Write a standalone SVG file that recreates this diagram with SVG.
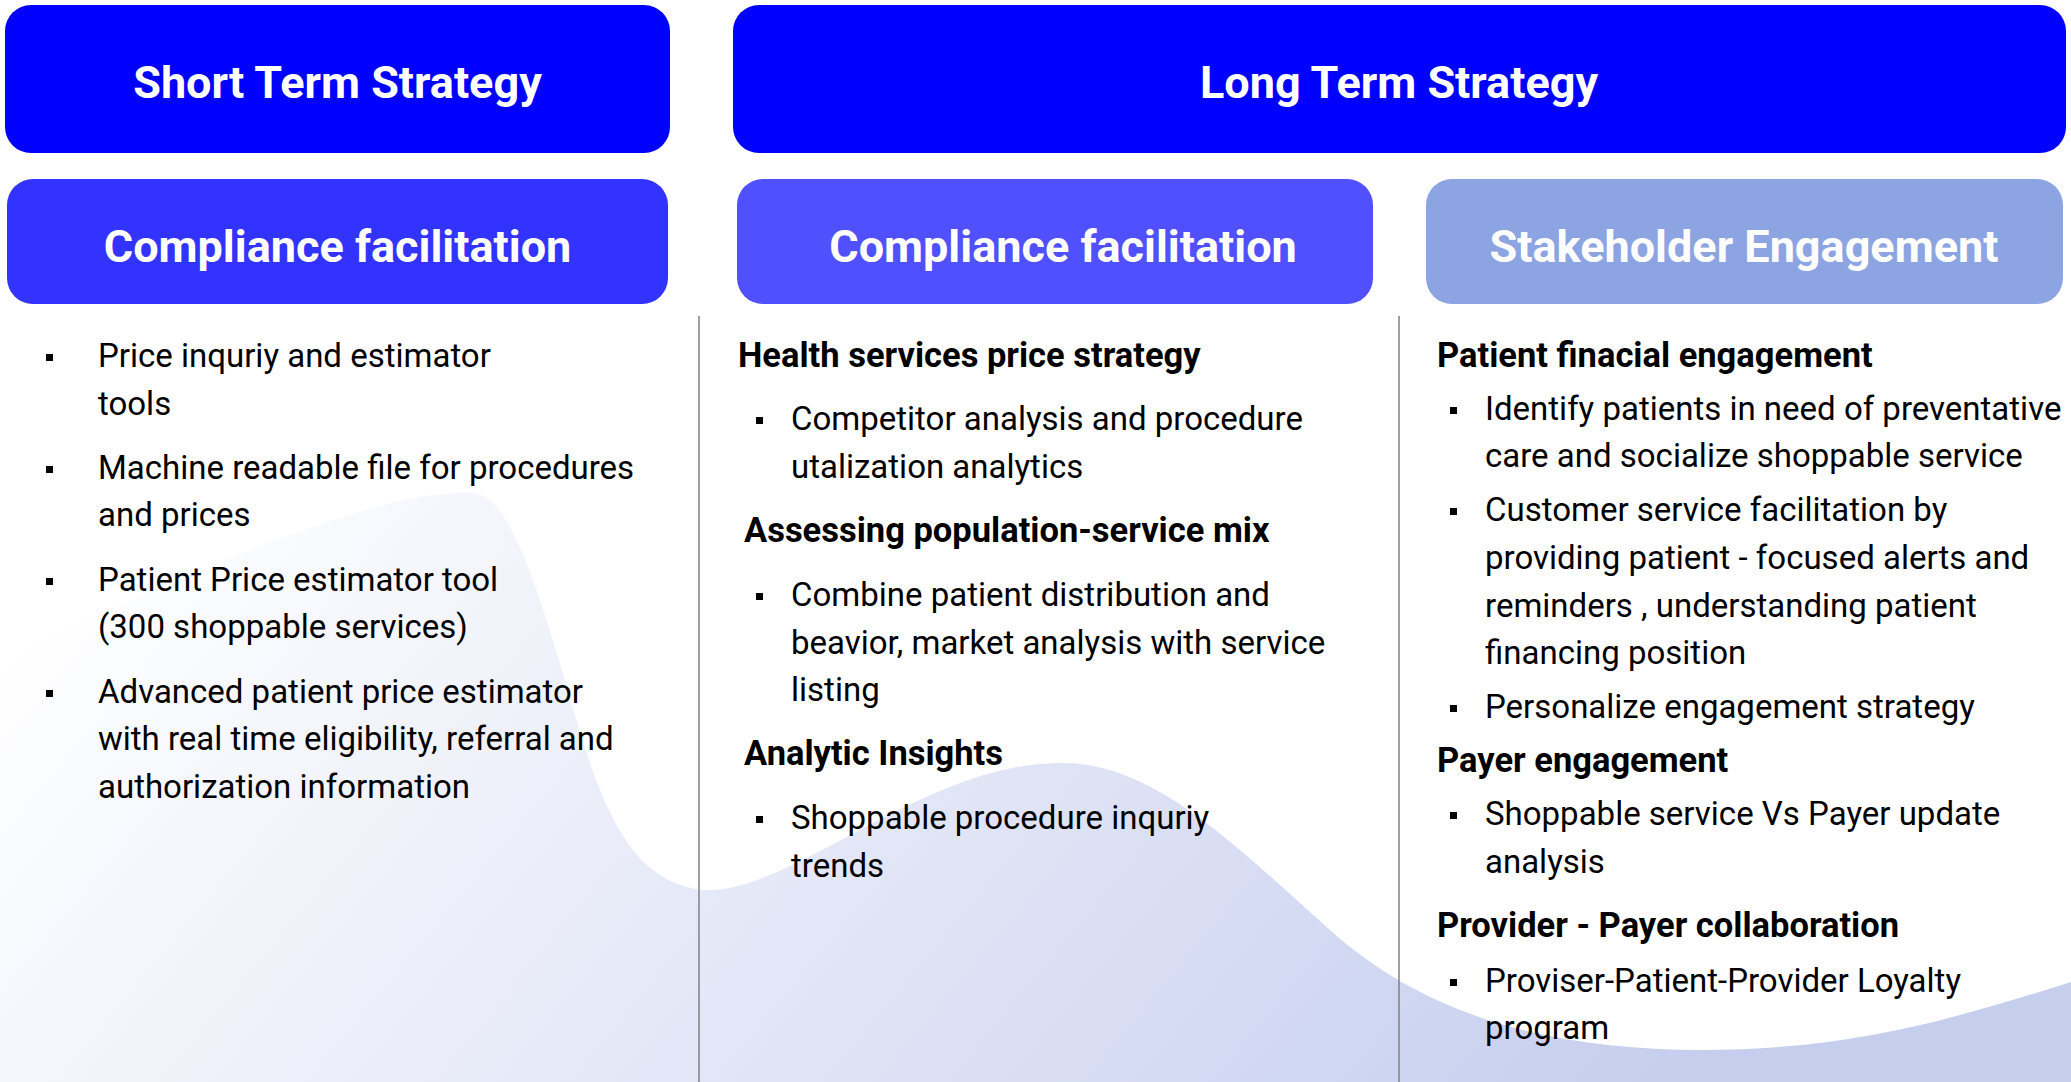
<svg xmlns="http://www.w3.org/2000/svg" width="2071" height="1082" viewBox="0 0 2071 1082">
<defs>
<linearGradient id="bgGrad" gradientUnits="userSpaceOnUse" x1="300" y1="300" x2="1500" y2="1300">
<stop offset="0" stop-color="#FFFFFF"/>
<stop offset="1" stop-color="#C6CEEE"/>
</linearGradient>
<style>
.hdr { font-family: Roboto, "Liberation Sans", sans-serif; font-weight: 700; font-size: 45px; fill: #ffffff; text-anchor: middle; }
.body { font-family: Roboto, "Liberation Sans", sans-serif; font-size: 33px; fill: #000000; }
.sub { font-family: Roboto, "Liberation Sans", sans-serif; font-size: 34.5px; font-weight: 700; fill: #000000; }
.bul { fill: #000000; }
.div { stroke: #808080; stroke-width: 1.5; fill: none; }
</style>
</defs>
<rect x="0" y="0" width="2071" height="1082" fill="#ffffff"/>
<path id="wave" fill="url(#bgGrad)" d="M 0 660 C 150 590, 390 480, 478 494 C 515 502, 548 622, 577 722 C 606 820, 636 882, 702 890 C 792 895, 920 765, 1057 763 C 1150 760, 1230 840, 1330 930 C 1430 1020, 1560 1050, 1700 1050 C 1850 1050, 1950 1020, 2071 982 L 2071 1082 L 0 1082 Z"/>

<g id="connectors">
<line class="div" x1="699" y1="316" x2="699" y2="1082"/>
<line class="div" x1="1399" y1="316" x2="1399" y2="1082"/>
</g>

<g id="short-term">
<rect x="5" y="5" width="665" height="148" rx="26" fill="#0000FF"/>
<text class="hdr" x="337.5" y="98">Short Term Strategy</text>
</g>
<g id="long-term">
<rect x="733" y="5" width="1333" height="148" rx="26" fill="#0000FF"/>
<text class="hdr" x="1399" y="98">Long Term Strategy</text>
</g>
<g id="compliance-short">
<rect x="7" y="179" width="661" height="125" rx="26" fill="#3333FF"/>
<text class="hdr" x="337.5" y="262">Compliance facilitation</text>
</g>
<g id="compliance-long">
<rect x="737" y="179" width="636" height="125" rx="26" fill="#5050FF"/>
<text class="hdr" x="1063" y="262">Compliance facilitation</text>
</g>
<g id="stakeholder">
<rect x="1426" y="179" width="637" height="125" rx="26" fill="#8DA4E3"/>
<text class="hdr" x="1744" y="262">Stakeholder Engagement</text>
</g>

<g id="col-short">
<rect class="bul" x="46" y="354" width="7" height="7"/>
<text class="body" x="98" y="367">Price inquriy and estimator</text>
<text class="body" x="98" y="415">tools</text>
<rect class="bul" x="46" y="466" width="7" height="7"/>
<text class="body" x="98" y="479">Machine readable file for procedures</text>
<text class="body" x="98" y="526">and prices</text>
<rect class="bul" x="46" y="578" width="7" height="7"/>
<text class="body" x="98" y="591">Patient Price estimator tool</text>
<text class="body" x="98" y="638">(300 shoppable services)</text>
<rect class="bul" x="46" y="690" width="7" height="7"/>
<text class="body" x="98" y="703">Advanced patient price estimator</text>
<text class="body" x="98" y="750">with real time eligibility, referral and</text>
<text class="body" x="98" y="798">authorization information</text>
</g>

<g id="col-long-compliance">
<text class="sub" x="738" y="367">Health services price strategy</text>
<rect class="bul" x="756" y="417" width="7" height="7"/>
<text class="body" x="791" y="430">Competitor analysis and procedure</text>
<text class="body" x="791" y="478">utalization analytics</text>
<text class="sub" x="744" y="542">Assessing population-service mix</text>
<rect class="bul" x="756" y="593" width="7" height="7"/>
<text class="body" x="791" y="606">Combine patient distribution and</text>
<text class="body" x="791" y="654">beavior, market analysis with service</text>
<text class="body" x="791" y="701">listing</text>
<text class="sub" x="744" y="765">Analytic Insights</text>
<rect class="bul" x="756" y="816" width="7" height="7"/>
<text class="body" x="791" y="829">Shoppable procedure inquriy</text>
<text class="body" x="791" y="877">trends</text>
</g>

<g id="col-stakeholder">
<text class="sub" x="1437" y="367">Patient finacial engagement</text>
<rect class="bul" x="1450" y="407" width="7" height="7"/>
<text class="body" x="1485" y="420">Identify patients in need of preventative</text>
<text class="body" x="1485" y="467">care and socialize shoppable service</text>
<rect class="bul" x="1450" y="508" width="7" height="7"/>
<text class="body" x="1485" y="521">Customer service facilitation by</text>
<text class="body" x="1485" y="569">providing patient - focused alerts and</text>
<text class="body" x="1485" y="617">reminders , understanding patient</text>
<text class="body" x="1485" y="664">financing position</text>
<rect class="bul" x="1450" y="705" width="7" height="7"/>
<text class="body" x="1485" y="718">Personalize engagement strategy</text>
<text class="sub" x="1437" y="772">Payer engagement</text>
<rect class="bul" x="1450" y="812" width="7" height="7"/>
<text class="body" x="1485" y="825">Shoppable service Vs Payer update</text>
<text class="body" x="1485" y="873">analysis</text>
<text class="sub" x="1437" y="937">Provider - Payer collaboration</text>
<rect class="bul" x="1450" y="979" width="7" height="7"/>
<text class="body" x="1485" y="992">Proviser-Patient-Provider Loyalty</text>
<text class="body" x="1485" y="1039">program</text>
</g>
</svg>
